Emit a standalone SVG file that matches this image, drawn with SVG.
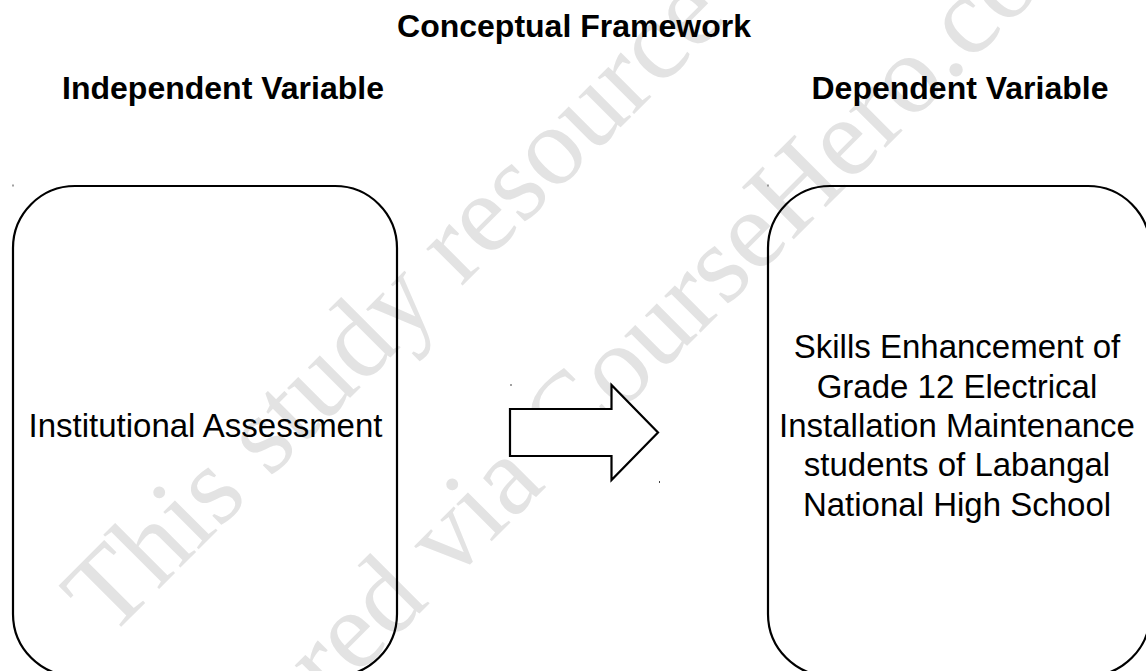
<svg xmlns="http://www.w3.org/2000/svg" width="1146" height="671" viewBox="0 0 1146 671">
  <style>
    .wm { font-family: "Liberation Serif", "Times New Roman", serif; font-size: 112px; fill: #e3e3e3; }
    .head { font-family: "Liberation Sans", Arial, sans-serif; font-size: 32px; font-weight: bold; fill: #000; text-anchor: middle; }
    .label { font-family: "Liberation Sans", Arial, sans-serif; font-size: 33px; fill: #000; text-anchor: middle; }
    .box { fill: none; stroke: #000; stroke-width: 2.2; }
    .arrow { fill: #fff; stroke: #000; stroke-width: 2.2; stroke-linejoin: miter; }
    .speck { fill: #444; }
  </style>
  <rect x="0" y="0" width="1146" height="671" fill="#fff"/>

  <g id="watermark">
    <text class="wm" transform="translate(109,639) rotate(-45)">This study resource was</text>
    <text class="wm" transform="translate(224,809) rotate(-45)">shared via CourseHero.com</text>
  </g>

  <g id="headings">
    <text class="head" x="574" y="37">Conceptual Framework</text>
    <text class="head" x="223" y="99">Independent Variable</text>
    <text class="head" x="960" y="99">Dependent Variable</text>
  </g>

  <g id="node-independent">
    <rect class="box" x="13" y="186" width="384" height="490" rx="62" ry="62"/>
    <text class="label" x="205.5" y="437">Institutional Assessment</text>
  </g>

  <g id="node-dependent">
    <rect class="box" x="768" y="186" width="382" height="490" rx="62" ry="62"/>
    <text class="label" x="957" y="358">Skills Enhancement of</text>
    <text class="label" x="957" y="397.5">Grade 12 Electrical</text>
    <text class="label" x="957" y="437">Installation Maintenance</text>
    <text class="label" x="957" y="476">students of Labangal</text>
    <text class="label" x="957" y="515.5">National High School</text>
  </g>

  <g id="connectors">
    <polygon class="arrow" points="510,409 611.5,409 611.5,385 658,432.5 611.5,480 611.5,456 510,456"/>
  </g>

  <g id="specks">
    <rect class="speck" x="12.5" y="184.5" width="1" height="2"/>
    <rect class="speck" x="767.5" y="184.5" width="1" height="2"/>
    <rect class="speck" x="510.5" y="384" width="1" height="2"/>
    <rect class="speck" x="659" y="481" width="1" height="2"/>
  </g>
</svg>
